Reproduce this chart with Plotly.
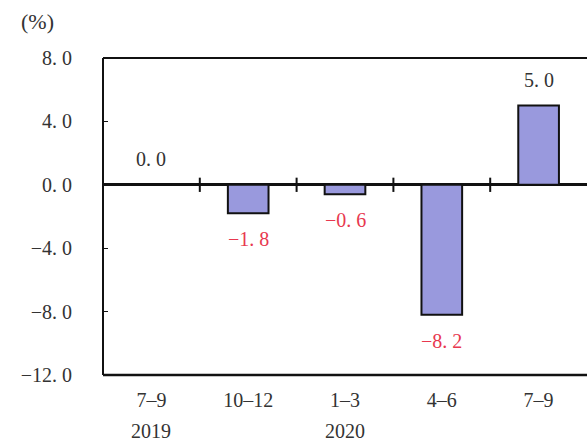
import plotly.graph_objects as go

# Quarterly real GDP growth (%), seasonally adjusted
quarters = ["7–9", "10–12", "1–3", "4–6", "7–9"]
years = ["2019", "", "2020", "", ""]
growth = [0.0, -1.8, -0.6, -8.2, 5.0]
y_ticks = [8.0, 4.0, 0.0, -4.0, -8.0, -12.0]

FONT = "Liberation Serif"
BAR_FILL = "#9999dd"
NEG_COLOR = "#e8384f"
TEXT_COLOR = "#333333"
FS = 20


def fmt(v):
    s = f"{v:.1f}".replace(".", ". ")
    return s.replace("-", "−")


x_idx = list(range(len(quarters)))

fig = go.Figure()
fig.add_trace(go.Bar(
    x=x_idx,
    y=growth,
    width=0.42,
    marker=dict(color=BAR_FILL, line=dict(color="#111111", width=2)),
    hoverinfo="skip",
))

# value labels above positive bars, below negative ones
for i, v in zip(x_idx, growth):
    neg = v < 0
    fig.add_annotation(
        x=i, y=v, xref="x", yref="y",
        text=fmt(v), showarrow=False,
        yshift=-26 if neg else 26,
        font=dict(family=FONT, size=FS, color=NEG_COLOR if neg else TEXT_COLOR),
    )

# year labels under the quarter labels
for i, yr in zip(x_idx, years):
    if yr:
        fig.add_annotation(
            x=i, y=0, xref="x", yref="paper",
            text=yr, showarrow=False, yanchor="middle", yshift=-56,
            font=dict(family=FONT, size=FS, color=TEXT_COLOR),
        )

# category separator ticks across the zero line
for i in x_idx[:-1]:
    fig.add_shape(
        type="line", xref="x", yref="y",
        x0=i + 0.5, x1=i + 0.5, y0=-0.45, y1=0.45,
        line=dict(color="#111111", width=2),
    )

# frame: left, top and bottom edges
fig.add_shape(type="line", xref="paper", yref="paper", x0=0, x1=0, y0=0, y1=1,
              line=dict(color="#111111", width=2))
fig.add_shape(type="line", xref="paper", yref="paper", x0=0, x1=1, y0=1, y1=1,
              line=dict(color="#111111", width=2))
fig.add_shape(type="line", xref="paper", yref="paper", x0=0, x1=1, y0=0, y1=0,
              line=dict(color="#111111", width=2.5))

# unit label
fig.add_annotation(
    x=-0.136, y=1.114, xref="paper", yref="paper", text="(%)", showarrow=False,
    xanchor="center", yanchor="middle",
    font=dict(family=FONT, size=22, color=TEXT_COLOR),
)

fig.update_layout(
    width=587, height=441,
    margin=dict(l=103, r=0, t=58, b=66),
    paper_bgcolor="white", plot_bgcolor="white",
    showlegend=False,
    bargap=0.5,
    xaxis=dict(
        range=[-0.5, len(quarters) - 0.5],
        tickmode="array", tickvals=x_idx, ticktext=quarters,
        showgrid=False, zeroline=False, showline=False, ticks="",
        tickfont=dict(family=FONT, size=FS, color=TEXT_COLOR),
        ticklabelstandoff=11,
    ),
    yaxis=dict(
        range=[-12, 8],
        tickmode="array", tickvals=y_ticks, ticktext=[fmt(v) for v in y_ticks],
        showgrid=False, showline=False,
        zeroline=True, zerolinecolor="#111111", zerolinewidth=2.5,
        ticks="inside", ticklen=5, tickcolor="#111111", tickwidth=1,
        tickfont=dict(family=FONT, size=FS, color=TEXT_COLOR),
        ticklabelstandoff=30,
    ),
)

fig.write_html("out.html")
